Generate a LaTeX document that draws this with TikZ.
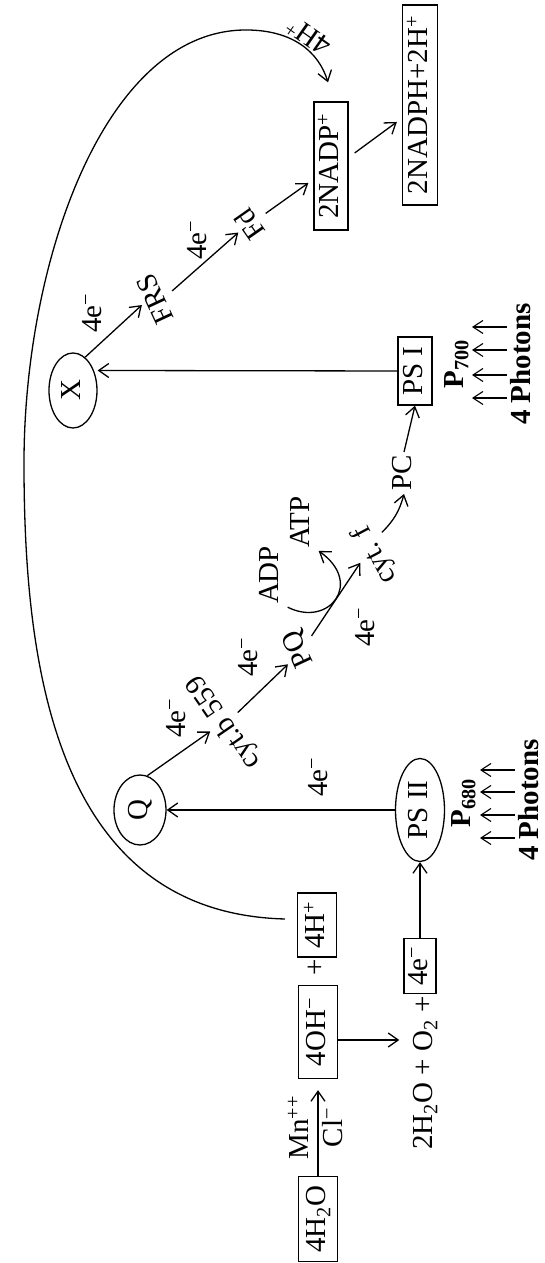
\documentclass[tikz,border=0pt]{standalone}
\usepackage{fontspec}
\setmainfont{Liberation Serif}
\usetikzlibrary{shapes.geometric, arrows.meta, positioning}

\begin{document}
\begin{tikzpicture}[
  x=1pt, y=1pt, rotate=90, transform shape,
  font=\fontsize{29}{33}\selectfont,
  every node/.style={align=center},
  %% ─── 樣式定義 ────────────────────────────────────────────────
  chem/.style={
    draw, line width=1.3pt, inner xsep=6pt, inner ysep=0pt,
    text height=21pt, text depth=6pt, minimum height=39pt
  },
  oval/.style={
    ellipse, draw, line width=1.3pt, inner sep=0pt,
    text height=21pt, text depth=6pt
  },
  lbl/.style={inner sep=3pt, text height=21pt, text depth=6pt},
  photo/.style={lbl, font=\fontsize{29}{33}\selectfont\bfseries},
  earrow/.style={-{Straight Barb[length=10pt, width=14pt]}, line width=1.3pt},
  parrow/.style={-{Straight Barb[length=10pt, width=13pt]}, line width=1.1pt}
]
  \useasboundingbox (0,0) rectangle (1263,544);

  %% ─── 1. 水的光解 ─────────────────────────────────────────────
  \node[chem, minimum width=85pt] (H2O) at (44, 226) {4H\textsubscript{2}O};
  \node[chem, minimum width=93pt] (OH) at (231, 226) {4OH\textsuperscript{−}};
  \node[lbl] (Plus) at (296, 227) {+};
  \node[chem, minimum width=64pt] (Hp) at (338, 227) {4H\textsuperscript{+}};
  \node[lbl] (Eq) at (190, 119) {2H\textsubscript{2}O + O\textsubscript{2} +};
  \node[chem, minimum width=55pt, minimum height=32pt] (Elec) at (297, 124) {4e\textsuperscript{−}};

  %% ─── 2. PS II 與光子 ─────────────────────────────────────────
  \node[oval, minimum width=103pt, minimum height=49pt] (PSII) at (453, 124) {PS II};
  \node[photo] (P680) at (460, 81) {P\textsubscript{680}};
  \node[photo] (PhII) at (463, 13) {4 Photons};

  %% ─── 3. 電子傳遞鏈 ───────────────────────────────────────────
  \node[oval, minimum width=70pt, minimum height=52pt] (Q) at (453, 404) {Q};
  \node[lbl, rotate=34.5] (CytB) at (541, 320) {cyt.b 559};
  \node[lbl, rotate=25] (PQ) at (614.5, 245) {PQ};
  \node[lbl] (ADP) at (688, 273) {ADP};
  \node[lbl] (ATP) at (741, 242) {ATP};
  \node[lbl, rotate=28] (CytF) at (708, 169) {cyt. f};
  \node[lbl] (PC) at (790, 140) {PC};

  % 4e- 標籤
  \node[lbl] (E1) at (486, 224) {4e\textsuperscript{−}};
  \node[lbl] (E2) at (545, 366) {4e\textsuperscript{−}};
  \node[lbl] (E3) at (606, 294) {4e\textsuperscript{−}};
  \node[lbl] (E4) at (636, 177) {4e\textsuperscript{−}};
  \node[lbl] (E5) at (950, 450) {4e\textsuperscript{−}};
  \node[lbl] (E6) at (1023, 345) {4e\textsuperscript{−}};

  %% ─── 4. PS I 與 NADP ─────────────────────────────────────────
  \node[chem, minimum width=68pt, minimum height=34pt] (PSI) at (892, 129) {PS I};
  \node[photo] (P700) at (899, 88) {P\textsubscript{700}};
  \node[photo] (PhI) at (899, 21) {4 Photons};
  \node[oval, minimum width=75pt, minimum height=48pt] (XA) at (872.5, 471) {X};
  \node[lbl, rotate=25] (FRS) at (965, 387) {FRS};
  \node[lbl, rotate=35] (Fd) at (1040, 292) {Fd};
  \node[chem, minimum width=128pt, minimum height=34pt] (NADP) at (1097, 213) {2NADP\textsuperscript{+}};
  \node[chem, minimum width=200pt, minimum height=35pt] (NADPH) at (1158, 124) {2NADPH+2H\textsuperscript{+}};
  \node[lbl, rotate=55] (HpLbl) at (1228.5, 234) {4H\textsuperscript{+}};

  %% ─── 5. 連線 ─────────────────────────────────────────────────
  \draw[earrow, shorten >=11pt] (H2O.east) -- (OH.west)
    node[midway, above, lbl] (Mn) {Mn\textsuperscript{++}}
    node[midway, below, lbl] (Cl) {Cl\textsuperscript{−}};
  \draw[earrow] ([xshift=-8pt]OH.south) -- ([xshift=33pt, yshift=9pt]Eq.north);
  \draw[earrow] (Elec.east) -- (PSII.west);
  \draw[earrow] (PSII.north) -- (Q.south);

  \draw[earrow] (Q.-12) -- (CytB.north);
  \draw[earrow] (CytB.south) -- (PQ.120);
  \draw[earrow] (PQ.-70) -- (CytF.north);
  \draw[earrow] (ADP.south west) .. controls (635,215) and (680,180) .. (ATP.south west);
  \draw[earrow] (CytF.-45) to[bend right=15] (PC.west);
  \draw[earrow] (PC.east) -- (PSI.west);

  \draw[earrow] (PSI.north) -- ([xshift=20pt]XA.south);
  \draw[earrow] (XA.-20) -- (FRS.north);
  \draw[earrow] (FRS.south) -- (Fd.north);
  \draw[earrow] (Fd.south) -- ([xshift=-17pt, yshift=5pt]NADP.north);
  \draw[earrow] ([xshift=13pt, yshift=-6pt]NADP.south) -- ([xshift=-17pt, yshift=5pt]NADPH.north);

  % 光子
  \foreach \dx in {-38,-15,8,30}
    \draw[parrow] ([xshift=\dx pt, yshift=16pt]PhII.center) -- ++(0,35);
  \foreach \dx in {-34,-11,14,37}
    \draw[parrow] ([xshift=\dx pt, yshift=16pt]PhI.center) -- ++(0,35);

  % 4H+ 回到 NADP
  \draw[earrow] ([xshift=6pt, yshift=12pt]Hp.north)
    .. controls (350,490) and (600,520) .. (800,520)
    .. controls (1000,520) and (1233,440) .. (1233,298)
    .. controls (1233,250) and (1210,225) .. ([xshift=19pt, yshift=3pt]NADP.east);

\end{tikzpicture}
\end{document}
